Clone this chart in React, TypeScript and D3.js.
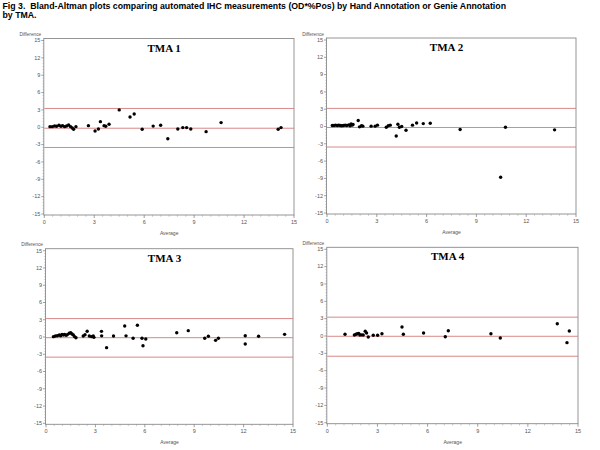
import React from 'react';
import * as d3 from 'd3';

// Bland-Altman panels: [average, difference]
const tma1: [number, number][] = [
  [0.34, 0.1], [0.48, 0.1], [0.62, 0.22], [0.74, 0.17], [0.88, 0.35], [1.0, 0.17], [1.1, 0.28],
  [1.22, 0.1], [1.34, 0.22], [1.46, 0.4], [1.58, 0.1], [1.68, -0.12], [1.76, -0.35], [1.9, 0.1],
  [2.65, 0.28], [3.05, -0.64], [3.25, -0.3], [3.37, 0.97], [3.59, 0.28], [3.69, 0.17], [3.89, 0.52],
  [4.5, 3.0], [5.15, 1.78], [5.4, 2.3], [5.88, -0.35], [6.54, 0.2], [6.99, 0.35], [7.42, -2.0],
  [8.02, -0.3], [8.32, -0.06], [8.55, -0.06], [8.8, -0.3], [9.72, -0.76], [10.62, 0.8],
  [14.05, -0.35], [14.22, -0.06],
];
const tma2: [number, number][] = [
  [0.32, 0.17], [0.42, 0.17], [0.52, 0.23], [0.62, 0.17], [0.71, 0.23], [0.8, 0.17], [0.89, 0.12],
  [0.99, 0.17], [1.09, 0.23], [1.19, 0.17], [1.31, 0.29], [1.39, 0.12], [1.45, 0.46], [1.51, 0.23],
  [1.57, 0.35], [1.88, 1.04], [1.96, -0.06], [2.08, 0.12], [2.16, 0.06], [2.66, 0.06], [2.9, 0.06],
  [3.04, 0.23], [3.57, -0.12], [3.69, 0.12], [3.81, 0.23], [4.17, -1.65], [4.27, 0.4], [4.36, -0.12],
  [4.5, 0.0], [4.76, -0.64], [5.15, 0.23], [5.4, 0.6], [5.8, 0.5], [6.22, 0.56], [8.02, -0.52],
  [10.46, -8.79], [10.75, -0.12], [13.71, -0.58],
];
const tma3: [number, number][] = [
  [0.45, 0.06], [0.57, 0.17], [0.69, 0.23], [0.81, 0.35], [0.89, 0.23], [0.97, 0.46], [1.05, 0.35],
  [1.13, 0.46], [1.21, 0.29], [1.29, 0.4], [1.41, 0.64], [1.5, 0.75], [1.58, 0.52], [1.66, 0.35],
  [1.74, 0.06], [1.82, -0.12], [2.26, 0.17], [2.37, 0.4], [2.5, 1.0], [2.63, 0.17], [2.77, 0.06],
  [2.87, 0.17], [2.91, -0.06], [3.37, 0.98], [3.38, 0.2], [3.68, -1.85], [4.1, 0.17], [4.78, 1.91],
  [4.86, 0.2], [5.29, -0.23], [5.55, 2.05], [5.83, -0.23], [5.89, -1.53], [6.06, -0.35],
  [7.94, 0.75], [8.64, 1.1], [9.64, -0.23], [9.86, 0.12], [10.3, -0.58], [10.47, -0.23],
  [12.1, 0.23], [12.1, -1.22], [12.91, 0.12], [14.49, 0.46],
];
const tma4: [number, number][] = [
  [1.06, 0.29], [1.62, 0.17], [1.72, 0.29], [1.8, 0.4], [1.88, 0.46], [1.95, 0.17], [2.05, 0.2],
  [2.15, 0.17], [2.27, 0.81], [2.35, 0.52], [2.45, -0.17], [2.75, 0.12], [3.01, 0.12], [3.27, 0.4],
  [4.47, 1.56], [4.55, 0.29], [5.76, 0.52], [7.06, -0.12], [7.24, 0.92], [9.79, 0.4], [10.35, -0.35],
  [13.76, 2.13], [14.34, -1.15], [14.48, 0.87],
];

const panelTitles = ['TMA 1', 'TMA 2', 'TMA 3', 'TMA 4'];
const panelData = [tma1, tma2, tma3, tma4];
// upper limit, mean difference, lower limit
const limitLines = [
  [3.25, -0.17, -3.5],
  [3.14, -0.17, -3.56],
  [3.2, -0.12, -3.5],
  [3.26, -0.05, -3.5],
];
const xTicks = [0, 3, 6, 9, 12, 15];
const yTicks = [-15, -12, -9, -6, -3, 0, 3, 6, 9, 12, 15];

const figTitle1 = 'Fig 3.  Bland-Altman plots comparing automated IHC measurements (OD*%Pos) by Hand Annotation or Genie Annotation';
const figTitle2 = 'by TMA.';

// pixel box of each panel: x of 0 and 15, y of 15 and -15
const boxes = [
  { x0: 44.3, x1: 294, yt: 40.5, yb: 214 },
  { x0: 327, x1: 576, yt: 40, yb: 213 },
  { x0: 46, x1: 293, yt: 250.7, yb: 423.3 },
  { x0: 327.3, x1: 578, yt: 249.3, yb: 422.7 },
];

const tickFont = 'Arial, "Liberation Sans", sans-serif';

function Panel({ i }: { i: number }) {
  const b = boxes[i];
  const x = d3.scaleLinear().domain([0, 15]).range([b.x0, b.x1]);
  const y = d3.scaleLinear().domain([-15, 15]).range([b.yb, b.yt]);
  const minorX = d3.range(0, 15.01, 0.5).filter(v => !xTicks.includes(v));
  const minorY = d3.range(-15, 15.01, 0.5).filter(v => !yTicks.includes(v));
  const top = y(15) - 2;
  const bottom = y(-15) + 1;
  const cx = (b.x0 + b.x1) / 2;

  return (
    <g>
      <rect x={b.x0 - 0.5} y={top} width={b.x1 - b.x0 + 0.5} height={bottom - top}
        fill="white" stroke="#8a8a8a" strokeWidth={0.9} />
      {limitLines[i].map((v, k) => (
        <line key={k} x1={b.x0} x2={b.x1} y1={y(v)} y2={y(v)} stroke="#d47a7a" strokeWidth={0.9} />
      ))}
      {panelData[i].map((d, k) => (
        <circle key={k} cx={x(d[0])} cy={y(d[1])} r={1.7} fill="black" />
      ))}
      {/* y axis */}
      {yTicks.map(t => (
        <g key={t}>
          <line x1={b.x0 - 0.5} x2={b.x0 - 3} y1={y(t)} y2={y(t)} stroke="#777" strokeWidth={0.7} />
          <text x={b.x0 - 4} y={y(t) + 1.8} fontSize={5.5} fill="#555" textAnchor="end" fontFamily={tickFont}>{t}</text>
        </g>
      ))}
      {minorY.map(t => (
        <line key={t} x1={b.x0 - 0.5} x2={b.x0 - 1.8} y1={y(t)} y2={y(t)} stroke="#999" strokeWidth={0.5} />
      ))}
      {/* x axis */}
      {xTicks.map(t => (
        <g key={t}>
          <line x1={x(t)} x2={x(t)} y1={bottom} y2={bottom + 3} stroke="#777" strokeWidth={0.7} />
          <text x={x(t)} y={bottom + 9} fontSize={5.5} fill="#555" textAnchor="middle" fontFamily={tickFont}>{t}</text>
        </g>
      ))}
      {minorX.map(t => (
        <line key={t} x1={x(t)} x2={x(t)} y1={bottom} y2={bottom + 1.8} stroke="#999" strokeWidth={0.5} />
      ))}
      <text x={b.x0 - 3} y={top - 2.5} fontSize={4.8} fill="#555" textAnchor="end" fontFamily={tickFont}>Difference</text>
      <text x={cx} y={bottom + 20} fontSize={5} fill="#555" textAnchor="middle" fontFamily={tickFont}>Average</text>
      <text x={cx - 5} y={y(15) + 11} fontSize={11} fontWeight="bold" textAnchor="middle"
        fontFamily='"Times New Roman", "Liberation Serif", serif'>{panelTitles[i]}</text>
    </g>
  );
}

export default function App() {
  return (
    <div style={{ position: 'absolute', left: 0, top: 0 }}>
      <svg width={600} height={450} style={{ display: 'block', background: 'white' }}>
        <text x={2.5} y={8.5} fontSize={8.75} fontWeight="bold" fontFamily='Arial, "Liberation Sans", sans-serif'
          style={{ whiteSpace: 'pre' }}>{figTitle1}</text>
        <text x={2.5} y={17.8} fontSize={8.75} fontWeight="bold" fontFamily='Arial, "Liberation Sans", sans-serif'>{figTitle2}</text>
        {[0, 1, 2, 3].map(i => <Panel key={i} i={i} />)}
      </svg>
    </div>
  );
}
